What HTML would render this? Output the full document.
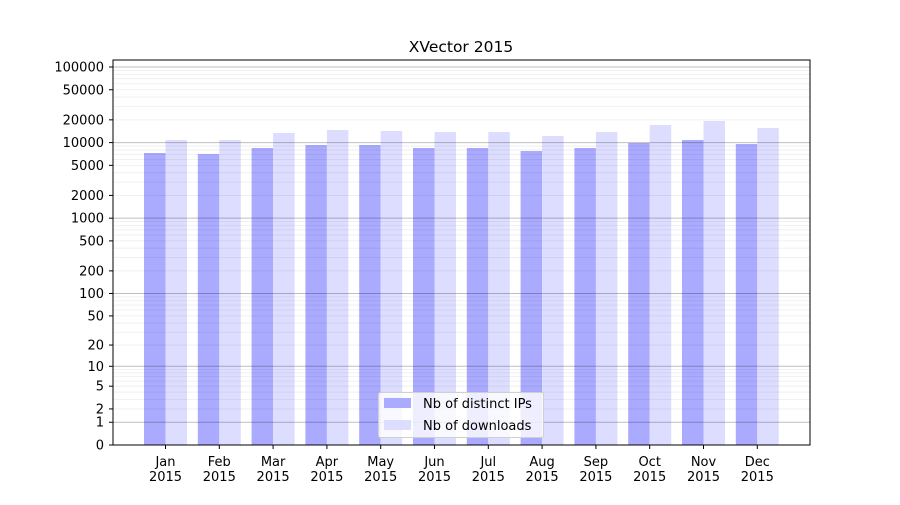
<!DOCTYPE html>
<html><head><meta charset="utf-8"><style>
body{margin:0;background:#fff;}
svg text{font-family:"DejaVu Sans","Liberation Sans",sans-serif;font-size:13px;fill:#000;}
</style></head><body>
<svg id="s" width="900" height="500" xmlns="http://www.w3.org/2000/svg"></svg>
<script>
const s=document.getElementById('s');
let h='';
const Y=v=>445-75.6*Math.log10(1+v);
const ip=[153,154,148,145,145,148,148,151,148,143,140,144];
const dl=[140,140,133,130,131,132,132,136,132,125,121,128];
const mon=['Jan','Feb','Mar','Apr','May','Jun','Jul','Aug','Sep','Oct','Nov','Dec'];
for(let i=0;i<12;i++){const c=165.5+i*53.8;
 h+=`<rect x="${c-21.5}" y="${ip[i]}" width="21.5" height="${445-ip[i]}" fill="#aaaaff"/>`;
 h+=`<rect x="${c}" y="${dl[i]}" width="21.5" height="${445-dl[i]}" fill="#ddddff"/>`;
 h+=`<line x1="${c}" x2="${c}" y1="445" y2="449" stroke="#000"/>`;
 h+=`<text x="${c}" y="466" text-anchor="middle">${mon[i]}</text><text x="${c}" y="481" text-anchor="middle">2015</text>`;}
for(let d=1;d<=100000;d*=10){for(let m=1;m<10;m++){const v=d*m;const y=Y(v);
 if(y<60)continue;
 h+=`<line x1="113" x2="810" y1="${y}" y2="${y}" stroke="${m==1?'rgba(0,0,0,0.25)':'rgba(0,0,0,0.07)'}" stroke-width="${m==1?1:0.8}"/>`;}}
const tk=[0,1,2,5,10,20,50,100,200,500,1000,2000,5000,10000,20000,50000,100000];
for(const v of tk){const y=Y(v);h+=`<line x1="109" x2="113" y1="${y}" y2="${y}" stroke="#000"/><text x="104" y="${y+4.5}" text-anchor="end">${v}</text>`;}
h+=`<rect x="113" y="60" width="697" height="385" fill="none" stroke="#000"/>`;
h+=`<text x="461" y="52" text-anchor="middle" style="font-size:15.5px">XVector 2015</text>`;
h+=`<rect x="378.5" y="392.5" width="165" height="45" rx="2" fill="#fff" fill-opacity="0.8" stroke="#d0d0d0"/>`;
h+=`<rect x="384" y="398" width="27" height="10" fill="#aaaaff"/><text x="423" y="408">Nb of distinct IPs</text>`;
h+=`<rect x="384" y="420" width="27" height="10" fill="#ddddff"/><text x="423" y="430">Nb of downloads</text>`;
s.innerHTML=h;
</script>
</body></html>
